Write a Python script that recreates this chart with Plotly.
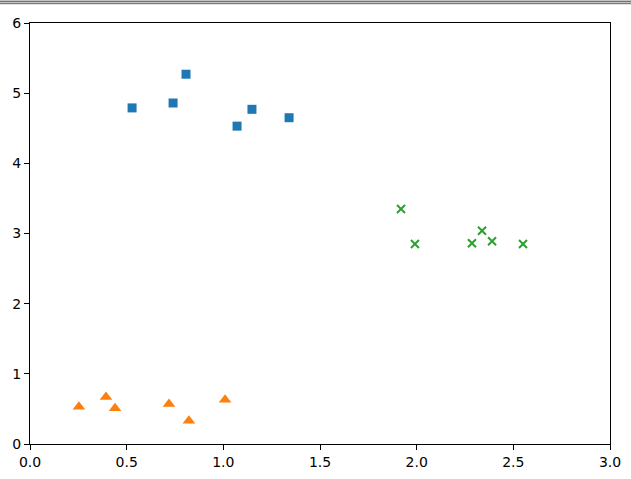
import plotly.graph_objects as go

sq_x = [0.528, 0.740, 0.807, 1.071, 1.148, 1.340]
sq_y = [4.79, 4.86, 5.27, 4.53, 4.77, 4.65]

tri_x = [0.253, 0.393, 0.440, 0.719, 0.822, 1.009]
tri_y = [0.53, 0.67, 0.51, 0.57, 0.33, 0.63]

x_x = [1.919, 1.991, 2.286, 2.338, 2.390, 2.550]
x_y = [3.35, 2.85, 2.86, 3.04, 2.89, 2.85]

x_ticks = [0.0, 0.5, 1.0, 1.5, 2.0, 2.5, 3.0]
x_tick_labels = ["0.0", "0.5", "1.0", "1.5", "2.0", "2.5", "3.0"]
y_ticks = [0, 1, 2, 3, 4, 5, 6]
y_tick_labels = ["0", "1", "2", "3", "4", "5", "6"]

fig = go.Figure()
fig.add_trace(go.Scatter(x=sq_x, y=sq_y, mode="markers",
                         marker=dict(symbol="square", size=9, color="#1f77b4")))
fig.add_trace(go.Scatter(x=tri_x, y=tri_y, mode="markers",
                         marker=dict(symbol="triangle-up", size=11, color="#ff7f0e")))
fig.add_trace(go.Scatter(x=x_x, y=x_y, mode="markers",
                         marker=dict(symbol="x-thin", size=8, color="#2ca02c",
                                     line=dict(width=2, color="#2ca02c"))))

axis_common = dict(showgrid=False, zeroline=False, showline=True, linecolor="black",
                   linewidth=1, mirror=True, ticks="outside", ticklen=5,
                   tickcolor="black", tickwidth=1, automargin=False,
                   tickfont=dict(family="DejaVu Sans", size=14, color="black"))

PH = 421.0
fig.update_layout(
    width=631, height=479,
    margin=dict(l=30, r=21, t=23, b=35),
    paper_bgcolor="white", plot_bgcolor="white",
    showlegend=False,
    xaxis=dict(range=[0, 3], tickvals=x_ticks, ticktext=x_tick_labels, **axis_common),
    yaxis=dict(range=[0, 6], tickvals=y_ticks, ticktext=y_tick_labels, **axis_common),
    shapes=[
        dict(type="rect", xref="paper", yref="paper", x0=-0.1, x1=1.1,
             y0=1 + (23 - 4.5) / PH, y1=1 + 23.5 / PH, line=dict(width=0),
             fillcolor="#c4c4c4"),
        dict(type="line", xref="paper", yref="paper", x0=-0.1, x1=1.1,
             y0=1 + 21.5 / PH, y1=1 + 21.5 / PH, line=dict(color="#707070", width=1)),
        dict(type="line", xref="paper", yref="paper", x0=-0.1, x1=1.1,
             y0=1 + 19.5 / PH, y1=1 + 19.5 / PH, line=dict(color="#7a7a7a", width=1)),
    ],
)

fig.write_html("out.html", config={"displayModeBar": False},
               post_script="document.body.style.margin='0';document.body.style.overflow='hidden';")
